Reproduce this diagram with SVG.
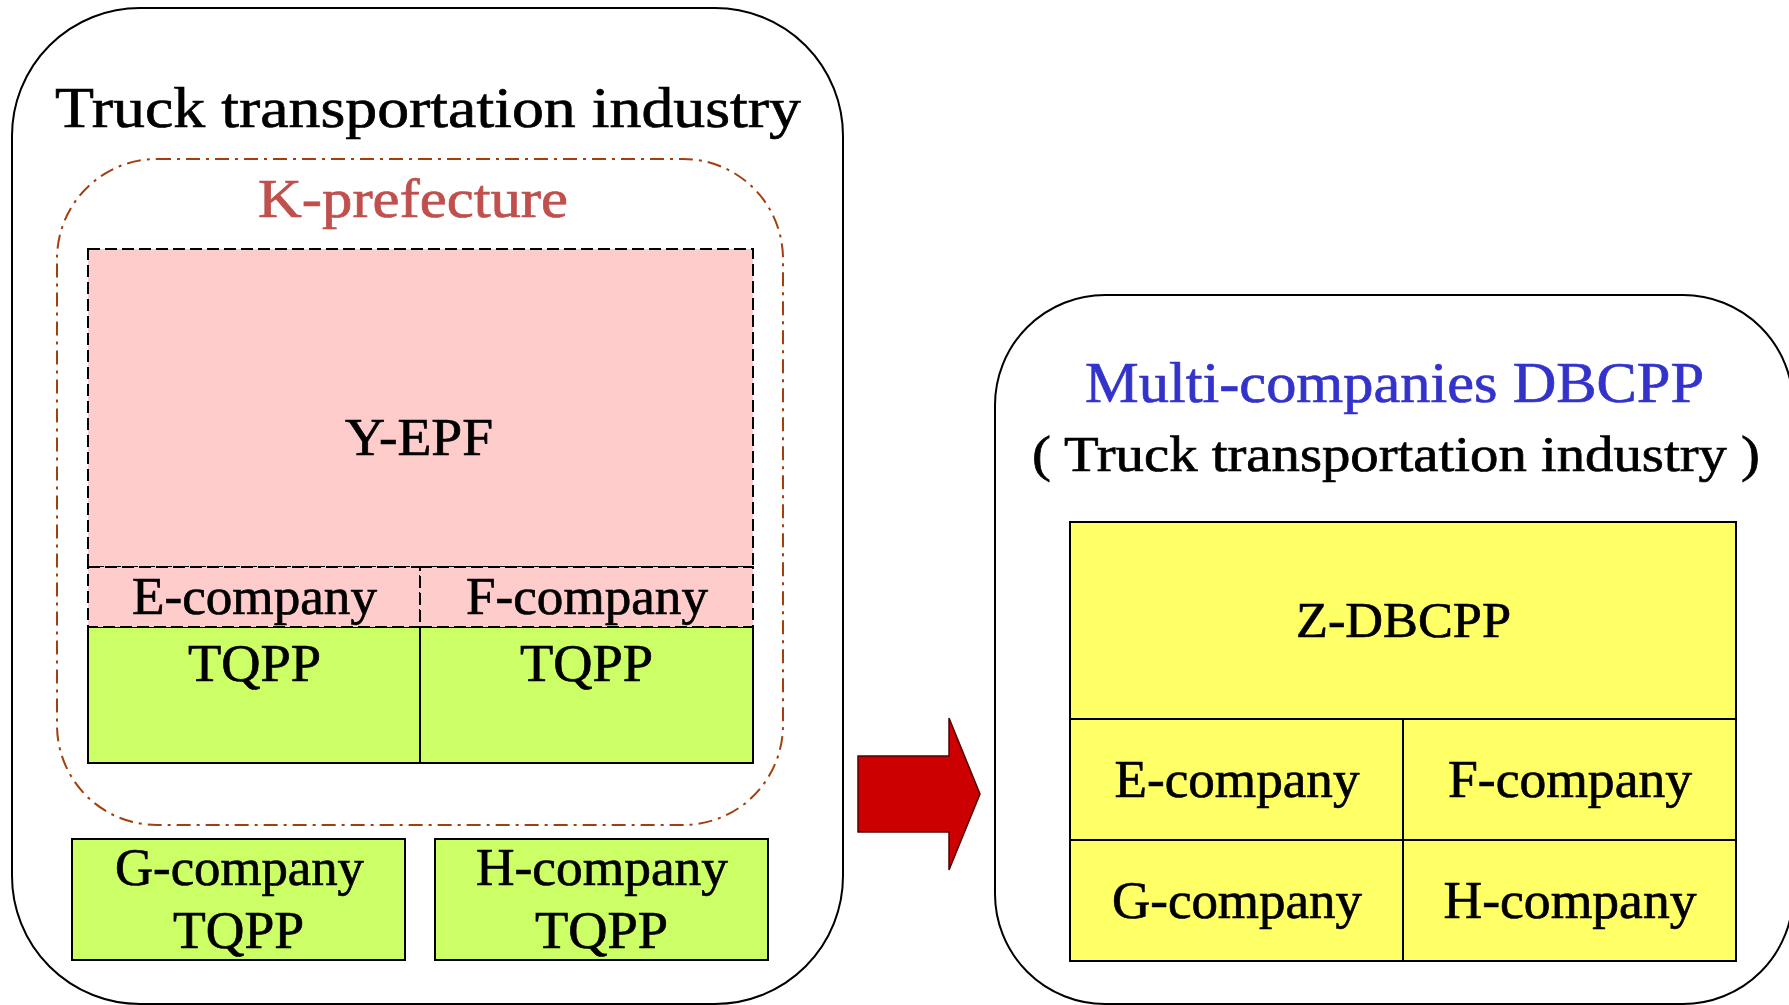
<svg xmlns="http://www.w3.org/2000/svg" width="1789" height="1005" viewBox="0 0 1789 1005">
<style>
text{font-family:"Liberation Serif","Times New Roman",serif;text-anchor:middle;fill:#000;stroke:#000;stroke-width:0.7px}
.outer{fill:#fff;stroke:#000;stroke-width:2}
.pink{fill:#FFCCCC;stroke:#000;stroke-width:2;stroke-dasharray:12 5}
.green{fill:#CCFF66;stroke:#000;stroke-width:2}
.yellow{fill:#FFFF66;stroke:#000;stroke-width:2}
.pref{fill:none;stroke:#A33F0E;stroke-width:2;stroke-dasharray:14 6 3 6}
.t52{font-size:52px}
text.red{fill:#C0504D;stroke:#C0504D}
text.blue{fill:#3333CC;stroke:#3333CC}
</style>
<rect width="1789" height="1005" fill="#fff"/>
<g id="left-industry">
<rect class="outer" x="12" y="8" width="831" height="996" rx="128" ry="128"/>
<text x="428" y="127" font-size="58" textLength="746" lengthAdjust="spacingAndGlyphs">Truck transportation industry</text>
</g>
<g id="k-prefecture">
<rect class="pref" x="57" y="159" width="726" height="666" rx="100" ry="100"/>
<text class="red" x="413" y="217" font-size="54" textLength="310" lengthAdjust="spacingAndGlyphs">K-prefecture</text>
</g>
<g id="y-epf">
<rect class="pink" x="88" y="249" width="665" height="318"/>
<text class="t52" x="419" y="455" textLength="148" lengthAdjust="spacingAndGlyphs">Y-EPF</text>
</g>
<g id="e-company-tqpp">
<rect class="green" x="88" y="627" width="332" height="136"/>
<rect class="pink" x="88" y="567" width="332" height="60"/>
<text class="t52" x="254.5" y="614" textLength="245" lengthAdjust="spacingAndGlyphs">E-company</text>
<text class="t52" x="254.5" y="681" textLength="133" lengthAdjust="spacingAndGlyphs">TQPP</text>
</g>
<g id="f-company-tqpp">
<rect class="green" x="420" y="627" width="333" height="136"/>
<rect class="pink" x="420" y="567" width="333" height="60"/>
<text class="t52" x="587" y="614" textLength="242" lengthAdjust="spacingAndGlyphs">F-company</text>
<text class="t52" x="586.5" y="681" textLength="133" lengthAdjust="spacingAndGlyphs">TQPP</text>
</g>
<g id="g-company-tqpp">
<rect class="green" x="72" y="839" width="333" height="121"/>
<text class="t52" x="239.5" y="885" textLength="249" lengthAdjust="spacingAndGlyphs">G-company</text>
<text class="t52" x="238.5" y="948" textLength="131" lengthAdjust="spacingAndGlyphs">TQPP</text>
</g>
<g id="h-company-tqpp">
<rect class="green" x="435" y="839" width="333" height="121"/>
<text class="t52" x="602" y="885" textLength="252" lengthAdjust="spacingAndGlyphs">H-company</text>
<text class="t52" x="601.5" y="948" textLength="133" lengthAdjust="spacingAndGlyphs">TQPP</text>
</g>
<g id="connectors">
<polygon points="858,756 949,756 949,718 980,794 949,870 949,832 858,832" fill="#CC0000" stroke="#550000" stroke-width="1.5"/>
</g>
<g id="right-dbcpp">
<rect class="outer" x="995" y="295" width="798" height="709" rx="110" ry="110"/>
<text class="blue" x="1394.5" y="402" font-size="58" textLength="619" lengthAdjust="spacingAndGlyphs">Multi-companies DBCPP</text>
<text x="1396" y="471" font-size="50" textLength="728" lengthAdjust="spacingAndGlyphs">( Truck transportation industry )</text>
</g>
<g id="z-dbcpp">
<rect class="yellow" x="1070" y="522" width="666" height="197"/>
<text x="1403.5" y="637" font-size="51" textLength="215" lengthAdjust="spacingAndGlyphs">Z-DBCPP</text>
</g>
<g id="r-e-company">
<rect class="yellow" x="1070" y="719" width="333" height="121"/>
<text class="t52" x="1237" y="797" textLength="245" lengthAdjust="spacingAndGlyphs">E-company</text>
</g>
<g id="r-f-company">
<rect class="yellow" x="1403" y="719" width="333" height="121"/>
<text class="t52" x="1570" y="797" textLength="244" lengthAdjust="spacingAndGlyphs">F-company</text>
</g>
<g id="r-g-company">
<rect class="yellow" x="1070" y="840" width="333" height="121"/>
<text class="t52" x="1237" y="918" textLength="250" lengthAdjust="spacingAndGlyphs">G-company</text>
</g>
<g id="r-h-company">
<rect class="yellow" x="1403" y="840" width="333" height="121"/>
<text class="t52" x="1570" y="918" textLength="253" lengthAdjust="spacingAndGlyphs">H-company</text>
</g>
</svg>
